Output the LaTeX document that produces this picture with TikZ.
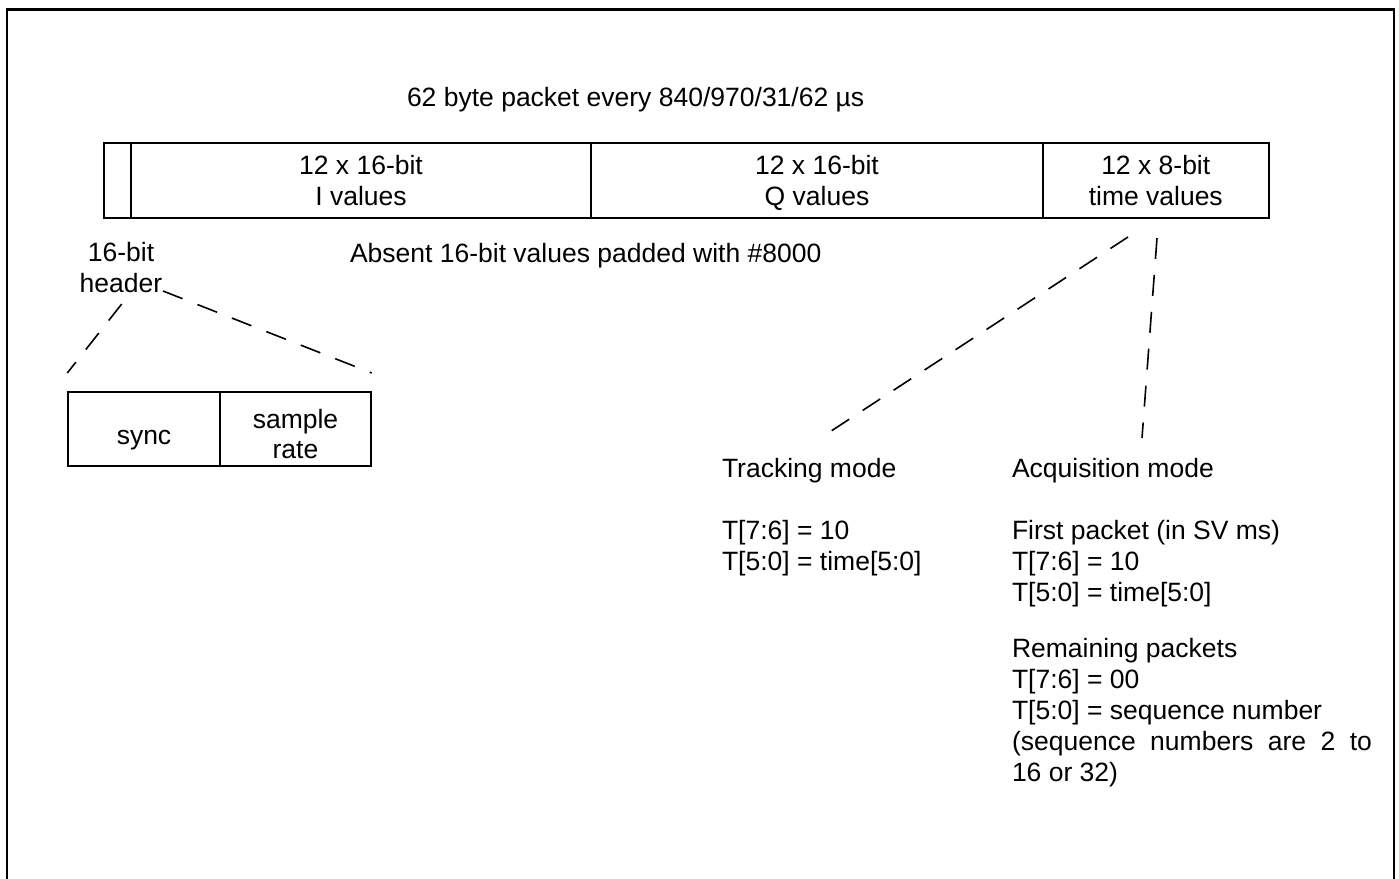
\documentclass[tikz,border=0pt]{standalone}
\usepackage{fontspec}
\setmainfont{Liberation Sans}
\begin{document}
\begin{tikzpicture}[x=1pt,y=-1pt,
  every node/.style={font=\fontsize{26.5}{31}\selectfont, inner sep=0pt, outer sep=0pt},
  frame/.style={line width=2.6pt},
  cellbox/.style={draw, line width=2pt},
  fieldbox/.style={cellbox, minimum height=75.5pt, align=center, text depth=0pt},
  guide/.style={line width=1.6pt, dash pattern=on 21pt off 16pt},
  block/.style={align=left, anchor=north west}]
\useasboundingbox (0,0) rectangle (1399,878);

% open frame round the page
\draw[frame] (7,880) -- (7,9.5) -- (1394,9.5) -- (1394,880);

% packet layout
\node[anchor=base west] (title) at (407,106) {62 byte packet every 840/970/31/62 µs};
\node[cellbox, minimum width=27pt, minimum height=75.5pt] (hdr) at (117.5,180.25) {};
\node[fieldbox, minimum width=460pt] (ival) at (361,180.25) {12 x 16-bit\\I values};
\node[fieldbox, minimum width=452pt] (qval) at (817,180.25) {12 x 16-bit\\Q values};
\node[fieldbox, minimum width=225.5pt] (tval) at (1155.75,180.25) {12 x 8-bit\\time values};

\node[anchor=base west] (pad) at (350,262) {Absent 16-bit values padded with \#8000};
\node[align=center, anchor=north] (hdrlbl) at (121,242.5) {16-bit\\header};

% header fields
\node[cellbox, minimum width=152pt, minimum height=74pt] (sync) at (144,429) {};
\node[cellbox, minimum width=151pt, minimum height=74pt] (rate) at (295.5,429) {};
\node[anchor=base] (synctxt) at (sync.center |- 0,444) {sync};
\node[anchor=base] (ratetxt1) at (rate.center |- 0,428) {sample};
\node[anchor=base] (ratetxt2) at (rate.center |- 0,458) {rate};

% time value modes
\node[block] (track) at (722,458.7) {Tracking mode\\[31pt]T[7:6] = 10\\T[5:0] = time[5:0]};
\node[block] (acq) at (1012,458.7) {Acquisition mode\\[31pt]First packet (in SV ms)\\T[7:6] = 10\\T[5:0] = time[5:0]\\[25pt]Remaining packets\\T[7:6] = 00\\T[5:0] = sequence number\\\makebox[360pt][s]{(sequence numbers are 2 to}\\16 or 32)};

% expansion guides
\coordinate (hdrA) at (121.7,304);
\coordinate (hdrB) at (163,291);
\coordinate (syncA) at (67.3,373);
\coordinate (rateB) at (371.7,373);
\coordinate (timeA) at (1128,237);
\coordinate (timeB) at (1157,238);
\coordinate (trackA) at (822,437);
\coordinate (acqB) at (1142,438);
\draw[guide] (hdrA) -- (syncA);
\draw[guide] (hdrB) -- (rateB);
\draw[guide] (timeA) -- (trackA);
\draw[guide] (timeB) -- (acqB);
\end{tikzpicture}
\end{document}
